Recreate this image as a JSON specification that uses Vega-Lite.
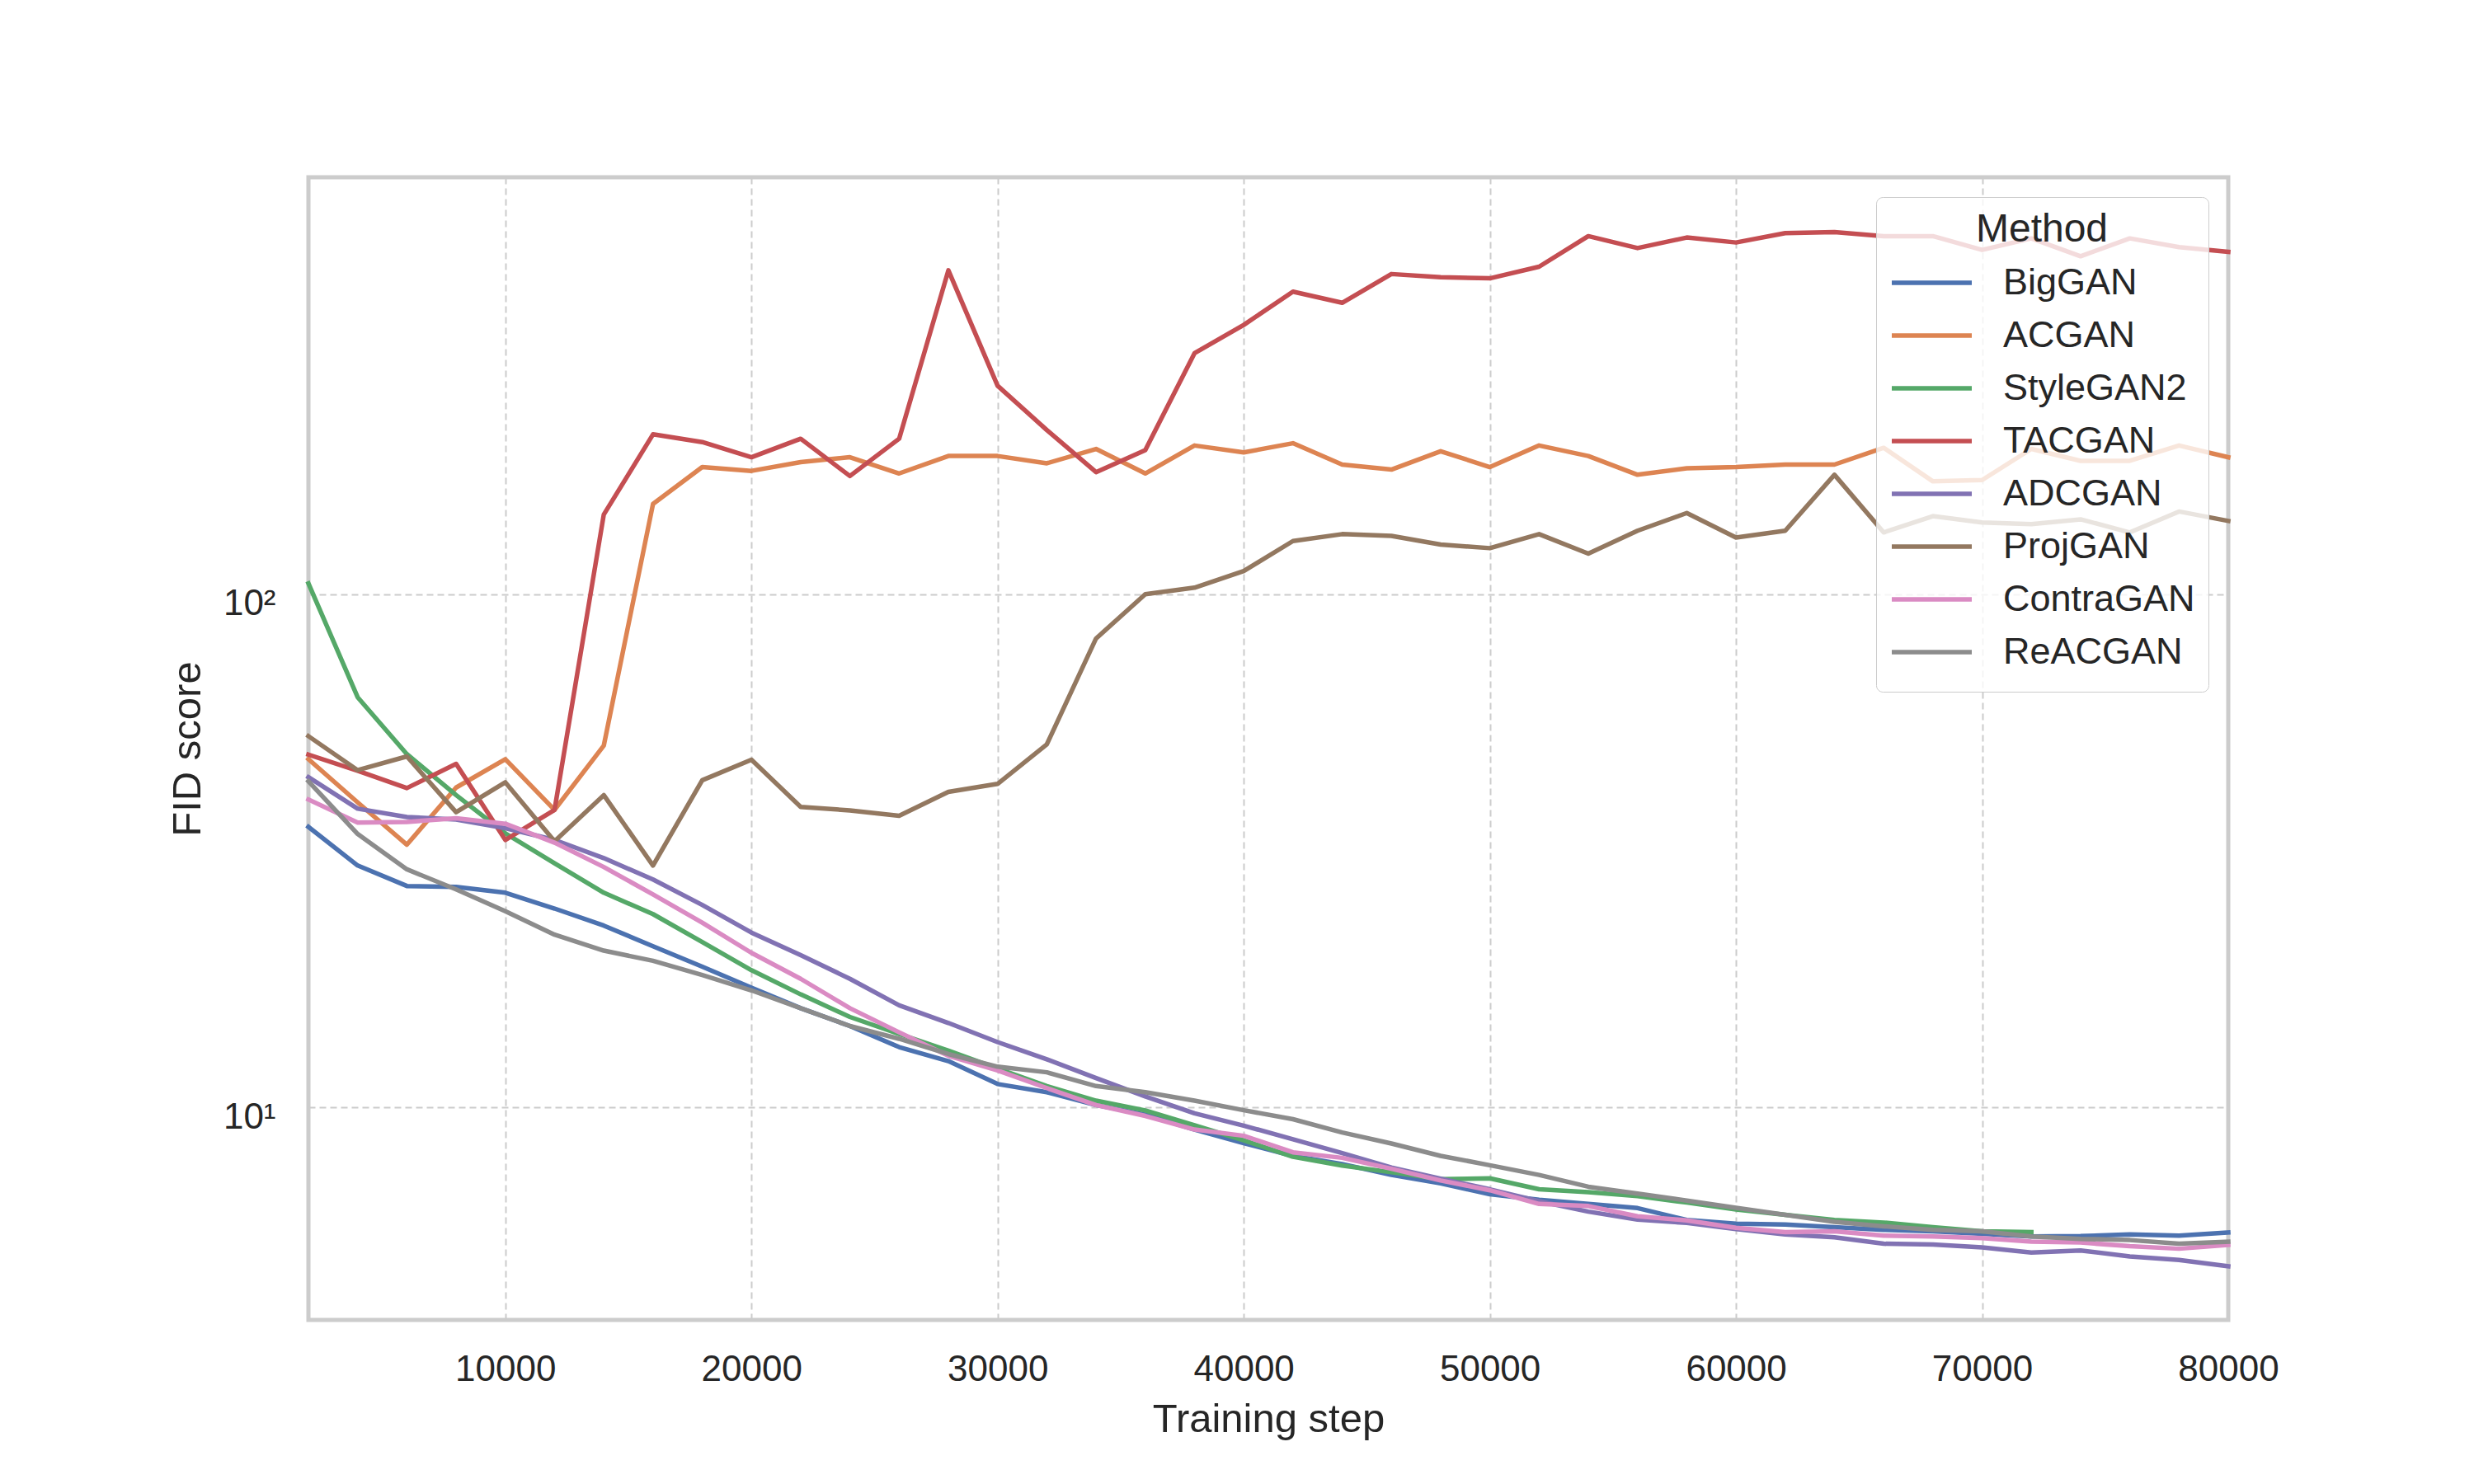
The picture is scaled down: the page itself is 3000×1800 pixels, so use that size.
{
  "$schema": "https://vega.github.io/schema/vega-lite/v6.json",
  "width": 2328,
  "height": 1386,
  "autosize": {"type": "none"},
  "padding": {"left": 374, "top": 215, "right": 298, "bottom": 199},
  "background": "white",
  "data": {
    "values": [
      {"method": "BigGAN", "step": 2000, "fid": 35.2}, {"method": "BigGAN", "step": 4000, "fid": 29.6}, {"method": "BigGAN", "step": 6000, "fid": 27.0}, {"method": "BigGAN", "step": 8000, "fid": 26.9},
      {"method": "BigGAN", "step": 10000, "fid": 26.2}, {"method": "BigGAN", "step": 12000, "fid": 24.4}, {"method": "BigGAN", "step": 14000, "fid": 22.6}, {"method": "BigGAN", "step": 16000, "fid": 20.6},
      {"method": "BigGAN", "step": 18000, "fid": 18.8}, {"method": "BigGAN", "step": 20000, "fid": 17.1}, {"method": "BigGAN", "step": 22000, "fid": 15.6}, {"method": "BigGAN", "step": 24000, "fid": 14.4},
      {"method": "BigGAN", "step": 26000, "fid": 13.1}, {"method": "BigGAN", "step": 28000, "fid": 12.3}, {"method": "BigGAN", "step": 30000, "fid": 11.1}, {"method": "BigGAN", "step": 32000, "fid": 10.7},
      {"method": "BigGAN", "step": 34000, "fid": 10.1}, {"method": "BigGAN", "step": 36000, "fid": 9.68}, {"method": "BigGAN", "step": 38000, "fid": 9.05}, {"method": "BigGAN", "step": 40000, "fid": 8.51},
      {"method": "BigGAN", "step": 42000, "fid": 8.04}, {"method": "BigGAN", "step": 44000, "fid": 7.75}, {"method": "BigGAN", "step": 46000, "fid": 7.38}, {"method": "BigGAN", "step": 48000, "fid": 7.11},
      {"method": "BigGAN", "step": 50000, "fid": 6.77}, {"method": "BigGAN", "step": 52000, "fid": 6.6}, {"method": "BigGAN", "step": 54000, "fid": 6.48}, {"method": "BigGAN", "step": 56000, "fid": 6.36},
      {"method": "BigGAN", "step": 58000, "fid": 6.03}, {"method": "BigGAN", "step": 60000, "fid": 5.93}, {"method": "BigGAN", "step": 62000, "fid": 5.91}, {"method": "BigGAN", "step": 64000, "fid": 5.84},
      {"method": "BigGAN", "step": 66000, "fid": 5.77}, {"method": "BigGAN", "step": 68000, "fid": 5.73}, {"method": "BigGAN", "step": 70000, "fid": 5.67}, {"method": "BigGAN", "step": 72000, "fid": 5.6},
      {"method": "BigGAN", "step": 74000, "fid": 5.61}, {"method": "BigGAN", "step": 76000, "fid": 5.65}, {"method": "BigGAN", "step": 78000, "fid": 5.62}, {"method": "BigGAN", "step": 80000, "fid": 5.7},

      {"method": "ACGAN", "step": 2000, "fid": 47.7}, {"method": "ACGAN", "step": 4000, "fid": 39.3}, {"method": "ACGAN", "step": 6000, "fid": 32.5}, {"method": "ACGAN", "step": 8000, "fid": 42},
      {"method": "ACGAN", "step": 10000, "fid": 47.7}, {"method": "ACGAN", "step": 12000, "fid": 38}, {"method": "ACGAN", "step": 14000, "fid": 50.7}, {"method": "ACGAN", "step": 16000, "fid": 150},
      {"method": "ACGAN", "step": 18000, "fid": 177}, {"method": "ACGAN", "step": 20000, "fid": 174}, {"method": "ACGAN", "step": 22000, "fid": 181}, {"method": "ACGAN", "step": 24000, "fid": 185},
      {"method": "ACGAN", "step": 26000, "fid": 172}, {"method": "ACGAN", "step": 28000, "fid": 186}, {"method": "ACGAN", "step": 30000, "fid": 186}, {"method": "ACGAN", "step": 32000, "fid": 180},
      {"method": "ACGAN", "step": 34000, "fid": 192}, {"method": "ACGAN", "step": 36000, "fid": 172}, {"method": "ACGAN", "step": 38000, "fid": 195}, {"method": "ACGAN", "step": 40000, "fid": 189},
      {"method": "ACGAN", "step": 42000, "fid": 197}, {"method": "ACGAN", "step": 44000, "fid": 179}, {"method": "ACGAN", "step": 46000, "fid": 175}, {"method": "ACGAN", "step": 48000, "fid": 190},
      {"method": "ACGAN", "step": 50000, "fid": 177}, {"method": "ACGAN", "step": 52000, "fid": 195}, {"method": "ACGAN", "step": 54000, "fid": 186}, {"method": "ACGAN", "step": 56000, "fid": 171},
      {"method": "ACGAN", "step": 58000, "fid": 176}, {"method": "ACGAN", "step": 60000, "fid": 177}, {"method": "ACGAN", "step": 62000, "fid": 179}, {"method": "ACGAN", "step": 64000, "fid": 179},
      {"method": "ACGAN", "step": 66000, "fid": 193}, {"method": "ACGAN", "step": 68000, "fid": 166}, {"method": "ACGAN", "step": 70000, "fid": 167}, {"method": "ACGAN", "step": 72000, "fid": 192},
      {"method": "ACGAN", "step": 74000, "fid": 182}, {"method": "ACGAN", "step": 76000, "fid": 182}, {"method": "ACGAN", "step": 78000, "fid": 195}, {"method": "ACGAN", "step": 80000, "fid": 185},

      {"method": "StyleGAN2", "step": 2000, "fid": 105}, {"method": "StyleGAN2", "step": 4000, "fid": 63}, {"method": "StyleGAN2", "step": 6000, "fid": 48.8}, {"method": "StyleGAN2", "step": 8000, "fid": 40.6},
      {"method": "StyleGAN2", "step": 10000, "fid": 34.2}, {"method": "StyleGAN2", "step": 12000, "fid": 29.9}, {"method": "StyleGAN2", "step": 14000, "fid": 26.2}, {"method": "StyleGAN2", "step": 16000, "fid": 23.8},
      {"method": "StyleGAN2", "step": 18000, "fid": 21.0}, {"method": "StyleGAN2", "step": 20000, "fid": 18.5}, {"method": "StyleGAN2", "step": 22000, "fid": 16.6}, {"method": "StyleGAN2", "step": 24000, "fid": 15.0},
      {"method": "StyleGAN2", "step": 26000, "fid": 13.9}, {"method": "StyleGAN2", "step": 28000, "fid": 12.9}, {"method": "StyleGAN2", "step": 30000, "fid": 11.9}, {"method": "StyleGAN2", "step": 32000, "fid": 11.0},
      {"method": "StyleGAN2", "step": 34000, "fid": 10.3}, {"method": "StyleGAN2", "step": 36000, "fid": 9.86}, {"method": "StyleGAN2", "step": 38000, "fid": 9.22}, {"method": "StyleGAN2", "step": 40000, "fid": 8.62},
      {"method": "StyleGAN2", "step": 42000, "fid": 8.01}, {"method": "StyleGAN2", "step": 44000, "fid": 7.7}, {"method": "StyleGAN2", "step": 46000, "fid": 7.47}, {"method": "StyleGAN2", "step": 48000, "fid": 7.24},
      {"method": "StyleGAN2", "step": 50000, "fid": 7.27}, {"method": "StyleGAN2", "step": 52000, "fid": 6.92}, {"method": "StyleGAN2", "step": 54000, "fid": 6.83}, {"method": "StyleGAN2", "step": 56000, "fid": 6.71},
      {"method": "StyleGAN2", "step": 58000, "fid": 6.52}, {"method": "StyleGAN2", "step": 60000, "fid": 6.32}, {"method": "StyleGAN2", "step": 62000, "fid": 6.17}, {"method": "StyleGAN2", "step": 64000, "fid": 6.03},
      {"method": "StyleGAN2", "step": 66000, "fid": 5.96}, {"method": "StyleGAN2", "step": 68000, "fid": 5.84}, {"method": "StyleGAN2", "step": 70000, "fid": 5.73}, {"method": "StyleGAN2", "step": 72000, "fid": 5.71},

      {"method": "TACGAN", "step": 2000, "fid": 48.7}, {"method": "TACGAN", "step": 4000, "fid": 45.3}, {"method": "TACGAN", "step": 6000, "fid": 41.9}, {"method": "TACGAN", "step": 8000, "fid": 46.7},
      {"method": "TACGAN", "step": 10000, "fid": 33.2}, {"method": "TACGAN", "step": 12000, "fid": 38}, {"method": "TACGAN", "step": 14000, "fid": 143}, {"method": "TACGAN", "step": 16000, "fid": 205},
      {"method": "TACGAN", "step": 18000, "fid": 198}, {"method": "TACGAN", "step": 20000, "fid": 185}, {"method": "TACGAN", "step": 22000, "fid": 201}, {"method": "TACGAN", "step": 24000, "fid": 170},
      {"method": "TACGAN", "step": 26000, "fid": 201}, {"method": "TACGAN", "step": 28000, "fid": 428}, {"method": "TACGAN", "step": 30000, "fid": 255}, {"method": "TACGAN", "step": 32000, "fid": 209},
      {"method": "TACGAN", "step": 34000, "fid": 173}, {"method": "TACGAN", "step": 36000, "fid": 191}, {"method": "TACGAN", "step": 38000, "fid": 295}, {"method": "TACGAN", "step": 40000, "fid": 335},
      {"method": "TACGAN", "step": 42000, "fid": 389}, {"method": "TACGAN", "step": 44000, "fid": 370}, {"method": "TACGAN", "step": 46000, "fid": 421}, {"method": "TACGAN", "step": 48000, "fid": 415},
      {"method": "TACGAN", "step": 50000, "fid": 413}, {"method": "TACGAN", "step": 52000, "fid": 435}, {"method": "TACGAN", "step": 54000, "fid": 499}, {"method": "TACGAN", "step": 56000, "fid": 473},
      {"method": "TACGAN", "step": 58000, "fid": 496}, {"method": "TACGAN", "step": 60000, "fid": 485}, {"method": "TACGAN", "step": 62000, "fid": 506}, {"method": "TACGAN", "step": 64000, "fid": 508},
      {"method": "TACGAN", "step": 66000, "fid": 499}, {"method": "TACGAN", "step": 68000, "fid": 499}, {"method": "TACGAN", "step": 70000, "fid": 469}, {"method": "TACGAN", "step": 72000, "fid": 494},
      {"method": "TACGAN", "step": 74000, "fid": 456}, {"method": "TACGAN", "step": 76000, "fid": 494}, {"method": "TACGAN", "step": 78000, "fid": 475}, {"method": "TACGAN", "step": 80000, "fid": 465},

      {"method": "ADCGAN", "step": 2000, "fid": 44}, {"method": "ADCGAN", "step": 4000, "fid": 38.2}, {"method": "ADCGAN", "step": 6000, "fid": 36.8}, {"method": "ADCGAN", "step": 8000, "fid": 36.4},
      {"method": "ADCGAN", "step": 10000, "fid": 35.0}, {"method": "ADCGAN", "step": 12000, "fid": 33.2}, {"method": "ADCGAN", "step": 14000, "fid": 30.6}, {"method": "ADCGAN", "step": 16000, "fid": 27.8},
      {"method": "ADCGAN", "step": 18000, "fid": 24.8}, {"method": "ADCGAN", "step": 20000, "fid": 21.9}, {"method": "ADCGAN", "step": 22000, "fid": 19.8}, {"method": "ADCGAN", "step": 24000, "fid": 17.8},
      {"method": "ADCGAN", "step": 26000, "fid": 15.8}, {"method": "ADCGAN", "step": 28000, "fid": 14.6}, {"method": "ADCGAN", "step": 30000, "fid": 13.4}, {"method": "ADCGAN", "step": 32000, "fid": 12.4},
      {"method": "ADCGAN", "step": 34000, "fid": 11.4}, {"method": "ADCGAN", "step": 36000, "fid": 10.5}, {"method": "ADCGAN", "step": 38000, "fid": 9.73}, {"method": "ADCGAN", "step": 40000, "fid": 9.21},
      {"method": "ADCGAN", "step": 42000, "fid": 8.66}, {"method": "ADCGAN", "step": 44000, "fid": 8.14}, {"method": "ADCGAN", "step": 46000, "fid": 7.63}, {"method": "ADCGAN", "step": 48000, "fid": 7.26},
      {"method": "ADCGAN", "step": 50000, "fid": 6.92}, {"method": "ADCGAN", "step": 52000, "fid": 6.56}, {"method": "ADCGAN", "step": 54000, "fid": 6.26}, {"method": "ADCGAN", "step": 56000, "fid": 6.04},
      {"method": "ADCGAN", "step": 58000, "fid": 5.95}, {"method": "ADCGAN", "step": 60000, "fid": 5.79}, {"method": "ADCGAN", "step": 62000, "fid": 5.65}, {"method": "ADCGAN", "step": 64000, "fid": 5.58},
      {"method": "ADCGAN", "step": 66000, "fid": 5.42}, {"method": "ADCGAN", "step": 68000, "fid": 5.4}, {"method": "ADCGAN", "step": 70000, "fid": 5.33}, {"method": "ADCGAN", "step": 72000, "fid": 5.21},
      {"method": "ADCGAN", "step": 74000, "fid": 5.26}, {"method": "ADCGAN", "step": 76000, "fid": 5.12}, {"method": "ADCGAN", "step": 78000, "fid": 5.04}, {"method": "ADCGAN", "step": 80000, "fid": 4.9},

      {"method": "ProjGAN", "step": 2000, "fid": 52.9}, {"method": "ProjGAN", "step": 4000, "fid": 45.4}, {"method": "ProjGAN", "step": 6000, "fid": 48.3}, {"method": "ProjGAN", "step": 8000, "fid": 37.6},
      {"method": "ProjGAN", "step": 10000, "fid": 43}, {"method": "ProjGAN", "step": 12000, "fid": 33}, {"method": "ProjGAN", "step": 14000, "fid": 40.6}, {"method": "ProjGAN", "step": 16000, "fid": 29.6},
      {"method": "ProjGAN", "step": 18000, "fid": 43.4}, {"method": "ProjGAN", "step": 20000, "fid": 47.6}, {"method": "ProjGAN", "step": 22000, "fid": 38.5}, {"method": "ProjGAN", "step": 24000, "fid": 37.9},
      {"method": "ProjGAN", "step": 26000, "fid": 37.0}, {"method": "ProjGAN", "step": 28000, "fid": 41.2}, {"method": "ProjGAN", "step": 30000, "fid": 42.7}, {"method": "ProjGAN", "step": 32000, "fid": 51},
      {"method": "ProjGAN", "step": 34000, "fid": 82}, {"method": "ProjGAN", "step": 36000, "fid": 100}, {"method": "ProjGAN", "step": 38000, "fid": 103}, {"method": "ProjGAN", "step": 40000, "fid": 111},
      {"method": "ProjGAN", "step": 42000, "fid": 127}, {"method": "ProjGAN", "step": 44000, "fid": 131}, {"method": "ProjGAN", "step": 46000, "fid": 130}, {"method": "ProjGAN", "step": 48000, "fid": 125},
      {"method": "ProjGAN", "step": 50000, "fid": 123}, {"method": "ProjGAN", "step": 52000, "fid": 131}, {"method": "ProjGAN", "step": 54000, "fid": 120}, {"method": "ProjGAN", "step": 56000, "fid": 133},
      {"method": "ProjGAN", "step": 58000, "fid": 144}, {"method": "ProjGAN", "step": 60000, "fid": 129}, {"method": "ProjGAN", "step": 62000, "fid": 133}, {"method": "ProjGAN", "step": 64000, "fid": 171},
      {"method": "ProjGAN", "step": 66000, "fid": 132}, {"method": "ProjGAN", "step": 68000, "fid": 142}, {"method": "ProjGAN", "step": 70000, "fid": 138}, {"method": "ProjGAN", "step": 72000, "fid": 137},
      {"method": "ProjGAN", "step": 74000, "fid": 140}, {"method": "ProjGAN", "step": 76000, "fid": 132}, {"method": "ProjGAN", "step": 78000, "fid": 145}, {"method": "ProjGAN", "step": 80000, "fid": 139},

      {"method": "ContraGAN", "step": 2000, "fid": 39.8}, {"method": "ContraGAN", "step": 4000, "fid": 35.9}, {"method": "ContraGAN", "step": 6000, "fid": 36.0}, {"method": "ContraGAN", "step": 8000, "fid": 36.6},
      {"method": "ContraGAN", "step": 10000, "fid": 35.7}, {"method": "ContraGAN", "step": 12000, "fid": 32.8}, {"method": "ContraGAN", "step": 14000, "fid": 29.4}, {"method": "ContraGAN", "step": 16000, "fid": 26.0},
      {"method": "ContraGAN", "step": 18000, "fid": 22.9}, {"method": "ContraGAN", "step": 20000, "fid": 20.0}, {"method": "ContraGAN", "step": 22000, "fid": 17.8}, {"method": "ContraGAN", "step": 24000, "fid": 15.6},
      {"method": "ContraGAN", "step": 26000, "fid": 14.0}, {"method": "ContraGAN", "step": 28000, "fid": 12.6}, {"method": "ContraGAN", "step": 30000, "fid": 11.8}, {"method": "ContraGAN", "step": 32000, "fid": 10.9},
      {"method": "ContraGAN", "step": 34000, "fid": 10.1}, {"method": "ContraGAN", "step": 36000, "fid": 9.62}, {"method": "ContraGAN", "step": 38000, "fid": 9.05}, {"method": "ContraGAN", "step": 40000, "fid": 8.8},
      {"method": "ContraGAN", "step": 42000, "fid": 8.17}, {"method": "ContraGAN", "step": 44000, "fid": 7.97}, {"method": "ContraGAN", "step": 46000, "fid": 7.59}, {"method": "ContraGAN", "step": 48000, "fid": 7.2},
      {"method": "ContraGAN", "step": 50000, "fid": 6.89}, {"method": "ContraGAN", "step": 52000, "fid": 6.48}, {"method": "ContraGAN", "step": 54000, "fid": 6.42}, {"method": "ContraGAN", "step": 56000, "fid": 6.13},
      {"method": "ContraGAN", "step": 58000, "fid": 6.02}, {"method": "ContraGAN", "step": 60000, "fid": 5.82}, {"method": "ContraGAN", "step": 62000, "fid": 5.71}, {"method": "ContraGAN", "step": 64000, "fid": 5.73},
      {"method": "ContraGAN", "step": 66000, "fid": 5.62}, {"method": "ContraGAN", "step": 68000, "fid": 5.6}, {"method": "ContraGAN", "step": 70000, "fid": 5.56}, {"method": "ContraGAN", "step": 72000, "fid": 5.47},
      {"method": "ContraGAN", "step": 74000, "fid": 5.45}, {"method": "ContraGAN", "step": 76000, "fid": 5.36}, {"method": "ContraGAN", "step": 78000, "fid": 5.3}, {"method": "ContraGAN", "step": 80000, "fid": 5.39},

      {"method": "ReACGAN", "step": 2000, "fid": 43.2}, {"method": "ReACGAN", "step": 4000, "fid": 34.1}, {"method": "ReACGAN", "step": 6000, "fid": 29.1}, {"method": "ReACGAN", "step": 8000, "fid": 26.6},
      {"method": "ReACGAN", "step": 10000, "fid": 24.1}, {"method": "ReACGAN", "step": 12000, "fid": 21.7}, {"method": "ReACGAN", "step": 14000, "fid": 20.2}, {"method": "ReACGAN", "step": 16000, "fid": 19.3},
      {"method": "ReACGAN", "step": 18000, "fid": 18.1}, {"method": "ReACGAN", "step": 20000, "fid": 16.9}, {"method": "ReACGAN", "step": 22000, "fid": 15.6}, {"method": "ReACGAN", "step": 24000, "fid": 14.4},
      {"method": "ReACGAN", "step": 26000, "fid": 13.6}, {"method": "ReACGAN", "step": 28000, "fid": 12.7}, {"method": "ReACGAN", "step": 30000, "fid": 12.0}, {"method": "ReACGAN", "step": 32000, "fid": 11.7},
      {"method": "ReACGAN", "step": 34000, "fid": 11.0}, {"method": "ReACGAN", "step": 36000, "fid": 10.7}, {"method": "ReACGAN", "step": 38000, "fid": 10.3}, {"method": "ReACGAN", "step": 40000, "fid": 9.87},
      {"method": "ReACGAN", "step": 42000, "fid": 9.48}, {"method": "ReACGAN", "step": 44000, "fid": 8.93}, {"method": "ReACGAN", "step": 46000, "fid": 8.5}, {"method": "ReACGAN", "step": 48000, "fid": 8.04},
      {"method": "ReACGAN", "step": 50000, "fid": 7.71}, {"method": "ReACGAN", "step": 52000, "fid": 7.38}, {"method": "ReACGAN", "step": 54000, "fid": 7.0}, {"method": "ReACGAN", "step": 56000, "fid": 6.79},
      {"method": "ReACGAN", "step": 58000, "fid": 6.58}, {"method": "ReACGAN", "step": 60000, "fid": 6.37}, {"method": "ReACGAN", "step": 62000, "fid": 6.17}, {"method": "ReACGAN", "step": 64000, "fid": 5.98},
      {"method": "ReACGAN", "step": 66000, "fid": 5.86}, {"method": "ReACGAN", "step": 68000, "fid": 5.77}, {"method": "ReACGAN", "step": 70000, "fid": 5.73}, {"method": "ReACGAN", "step": 72000, "fid": 5.6},
      {"method": "ReACGAN", "step": 74000, "fid": 5.54}, {"method": "ReACGAN", "step": 76000, "fid": 5.51}, {"method": "ReACGAN", "step": 78000, "fid": 5.42}, {"method": "ReACGAN", "step": 80000, "fid": 5.47}
    ]
  },
  "mark": {"type": "line", "strokeWidth": 5.5, "strokeJoin": "round", "strokeCap": "square"},
  "encoding": {
    "x": {
      "field": "step",
      "type": "quantitative",
      "scale": {"domain": [2000, 80000], "nice": false, "zero": false},
      "axis": {
        "title": "Training step",
        "values": [10000, 20000, 30000, 40000, 50000, 60000, 70000, 80000],
        "format": "d",
        "labelFlush": false,
        "labelOverlap": false,
        "labelPadding": 73,
        "labelBaseline": "alphabetic",
        "titleY": 135,
        "titleBaseline": "alphabetic"
      }
    },
    "y": {
      "field": "fid",
      "type": "quantitative",
      "scale": {"type": "log", "domain": [3.85, 650], "nice": false},
      "axis": {
        "title": "FID score",
        "values": [10, 100],
        "labelExpr": "datum.value == 100 ? '10²' : '10¹'",
        "labelFlush": false,
        "labelPadding": 40,
        "labelBaseline": "alphabetic",
        "labelOffset": 25,
        "titleX": -132,
        "titleY": 693,
        "titleAngle": 270,
        "titleBaseline": "alphabetic",
        "titleAlign": "center"
      }
    },
    "color": {
      "field": "method",
      "type": "nominal",
      "sort": ["BigGAN", "ACGAN", "StyleGAN2", "TACGAN", "ADCGAN", "ProjGAN", "ContraGAN", "ReACGAN"],
      "scale": {
        "domain": ["BigGAN", "ACGAN", "StyleGAN2", "TACGAN", "ADCGAN", "ProjGAN", "ContraGAN", "ReACGAN"],
        "range": ["#4c72b0", "#dd8452", "#55a868", "#c44e52", "#8172b3", "#937860", "#da8bc3", "#8c8c8c"]
      },
      "legend": {
        "title": "Method",
        "orient": "top-right",
        "offset": 24,
        "titleAnchor": "middle",
        "titlePadding": 8,
        "symbolType": "stroke",
        "symbolSize": 9409,
        "symbolStrokeWidth": 5.5,
        "clipHeight": 64,
        "rowPadding": 0,
        "labelOffset": 35,
        "labelLimit": 500,
        "padding": 16,
        "fillColor": "rgba(255,255,255,0.8)",
        "strokeColor": "#cccccc",
        "cornerRadius": 8
      }
    }
  },
  "config": {
    "font": "Liberation Sans",
    "view": {"stroke": "#cccccc", "strokeWidth": 5},
    "axis": {
      "grid": true,
      "gridColor": "#cccccc",
      "gridDash": [8, 5],
      "gridWidth": 2,
      "ticks": false,
      "tickSize": 0,
      "domain": false,
      "labelFont": "Liberation Sans",
      "labelFontSize": 44,
      "labelColor": "#262626",
      "titleFont": "Liberation Sans",
      "titleFontSize": 49,
      "titleFontWeight": "normal",
      "titleColor": "#262626"
    },
    "legend": {
      "labelFont": "Liberation Sans",
      "labelFontSize": 45,
      "labelColor": "#262626",
      "titleFont": "Liberation Sans",
      "titleFontSize": 48,
      "titleFontWeight": "normal",
      "titleColor": "#262626"
    }
  }
}
